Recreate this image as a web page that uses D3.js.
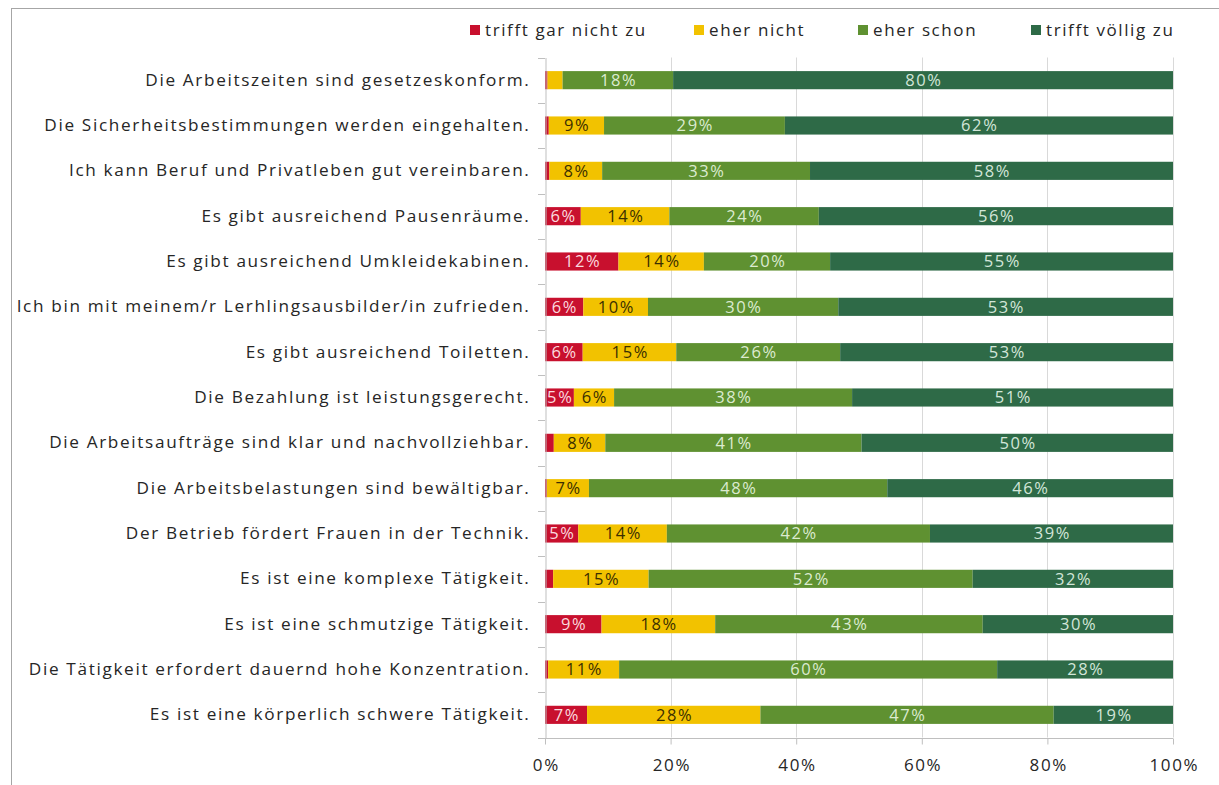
<!DOCTYPE html>
<html>
<head>
<meta charset="utf-8">
<script src="https://cdn.jsdelivr.net/npm/d3@7"></script>
<style>
  html, body { margin: 0; padding: 0; background: #fff; }
  svg { display: block; font-family: "Open Sans", "Noto Sans", sans-serif; }
  .lbl { letter-spacing: 1.6px; }
  .cat { letter-spacing: 1.65px; }
</style>
</head>
<body>
<svg id="chart" width="1219" height="785"></svg>
<script>
// Zustimmung zu Aussagen über den Ausbildungsbetrieb (Anteile in %)
const categories = [
  "Die Arbeitszeiten sind gesetzeskonform.",
  "Die Sicherheitsbestimmungen werden eingehalten.",
  "Ich kann Beruf und Privatleben gut vereinbaren.",
  "Es gibt ausreichend Pausenräume.",
  "Es gibt ausreichend Umkleidekabinen.",
  "Ich bin mit meinem/r Lerhlingsausbilder/in zufrieden.",
  "Es gibt ausreichend Toiletten.",
  "Die Bezahlung ist leistungsgerecht.",
  "Die Arbeitsaufträge sind klar und nachvollziehbar.",
  "Die Arbeitsbelastungen sind bewältigbar.",
  "Der Betrieb fördert Frauen in der Technik.",
  "Es ist eine komplexe Tätigkeit.",
  "Es ist eine schmutzige Tätigkeit.",
  "Die Tätigkeit erfordert dauernd hohe Konzentration.",
  "Es ist eine körperlich schwere Tätigkeit."
];

const seriesNames = ["trifft gar nicht zu", "eher nicht", "eher schon", "trifft völlig zu"];

const garNicht  = [0.4, 0.6, 0.7, 5.7, 11.7, 6.1, 6.0, 4.6, 1.4, 0.3, 5.3, 1.3, 9.0, 0.5, 6.7];
const eherNicht = [2.4, 8.8, 8.4, 14.1, 13.6, 10.3, 14.9, 6.4, 8.2, 6.7, 14.1, 15.2, 18.1, 11.3, 27.6];
const eherSchon = [17.6, 28.8, 33.1, 23.8, 20.1, 30.3, 26.1, 37.9, 40.8, 47.5, 41.9, 51.6, 42.6, 60.2, 46.7];
const voellig   = [79.6, 61.8, 57.8, 56.4, 54.6, 53.3, 53.0, 51.1, 49.6, 45.5, 38.7, 31.9, 30.3, 28.0, 19.0];

const xTicks = [0, 20, 40, 60, 80, 100];

const colors = ["#c8102e", "#f2c200", "#5f9131", "#2e6a47"];
const labelColors = ["#fbd9df", "#3b2f00", "#dcebd0", "#d3e6d9"];

const rows = categories.map((c, i) => ({
  cat: c,
  v: [garNicht[i], eherNicht[i], eherSchon[i], voellig[i]]
}));

const svg = d3.select("#chart");
const textColor = "#262626";

// outer frame
svg.append("rect")
  .attr("x", 11.5).attr("y", 8.5)
  .attr("width", 1230).attr("height", 800)
  .attr("fill", "none").attr("stroke", "#a6a6a6").attr("stroke-width", 1);

const plotLeft = 545, plotRight = 1173, plotTop = 57.5, plotBottom = 737.5;

const x = d3.scaleLinear().domain([0, 100]).range([plotLeft, plotRight]);
const y = d3.scaleBand().domain(categories).range([plotTop, plotBottom])
  .paddingInner(0.6).paddingOuter(0.3);

// vertical gridlines
svg.append("g")
  .selectAll("line")
  .data(xTicks.filter(t => t > 0))
  .join("line")
  .attr("x1", d => Math.round(x(d)) + 0.5).attr("x2", d => Math.round(x(d)) + 0.5)
  .attr("y1", plotTop).attr("y2", plotBottom)
  .attr("stroke", "#d9d9d9").attr("stroke-width", 1);

// stacked bars
const stack = d3.stack().keys([0, 1, 2, 3]).value((d, k) => d.v[k]);
const layers = stack(rows);

const gBars = svg.append("g");
layers.forEach((layer, k) => {
  gBars.append("g")
    .attr("fill", colors[k])
    .selectAll("rect")
    .data(layer)
    .join("rect")
    .attr("x", d => x(d[0]))
    .attr("y", d => y(d.data.cat))
    .attr("width", d => x(d[1]) - x(d[0]))
    .attr("height", y.bandwidth());
});

// value labels
layers.forEach((layer, k) => {
  svg.append("g")
    .selectAll("text")
    .data(layer.filter(d => d[1] - d[0] >= 3))
    .join("text")
    .attr("class", "lbl")
    .attr("x", d => (x(d[0]) + x(d[1])) / 2 + 0.8)
    .attr("y", d => y(d.data.cat) + y.bandwidth() / 2)
    .attr("dy", "0.36em")
    .attr("text-anchor", "middle")
    .attr("font-size", 16.5)
    .attr("fill", labelColors[k])
    .text(d => Math.round(d[1] - d[0]) + "%");
});

// category axis (left)
const yAxis = d3.axisLeft(y).tickSize(0).tickPadding(15);
const gy = svg.append("g").attr("transform", `translate(${plotLeft + 0.5},0)`).call(yAxis);
gy.select(".domain").attr("stroke", "#bfbfbf");
gy.selectAll("text").attr("class", "cat").attr("font-size", 17.2).attr("fill", textColor)
  .attr("font-family", "\"Open Sans\", sans-serif");

// category separator tick marks
svg.append("g")
  .selectAll("line")
  .data(d3.range(categories.length + 1))
  .join("line")
  .attr("x1", plotLeft - 7).attr("x2", plotLeft)
  .attr("y1", i => Math.round(plotTop + i * y.step()) + 0.5)
  .attr("y2", i => Math.round(plotTop + i * y.step()) + 0.5)
  .attr("stroke", "#bfbfbf");

// value axis (bottom)
const xAxis = d3.axisBottom(x).tickValues(xTicks).tickFormat(d => d + "%")
  .tickSize(6).tickPadding(14);
const gx = svg.append("g").attr("transform", `translate(0,${Math.round(plotBottom) + 0.5})`).call(xAxis);
gx.select(".domain").attr("stroke", "#bfbfbf").attr("d", `M${plotLeft},0H${plotRight}`);
gx.selectAll(".tick line").attr("stroke", "#bfbfbf");
gx.selectAll("text").attr("class", "lbl").attr("font-size", 17).attr("fill", textColor)
  .attr("dx", "0.8")
  .attr("font-family", "\"Open Sans\", sans-serif");

// legend
const legendTextX = [485, 709, 873, 1046];
const legend = svg.append("g").selectAll("g")
  .data(seriesNames)
  .join("g")
  .attr("transform", (d, i) => `translate(${legendTextX[i]},30)`);
legend.append("rect")
  .attr("x", -15).attr("y", -5).attr("width", 10).attr("height", 10)
  .attr("fill", (d, i) => colors[i]);
legend.append("text")
  .attr("class", "lbl")
  .attr("dy", "0.36em")
  .attr("font-size", 17).attr("fill", textColor)
  .text(d => d);
</script>
</body>
</html>
